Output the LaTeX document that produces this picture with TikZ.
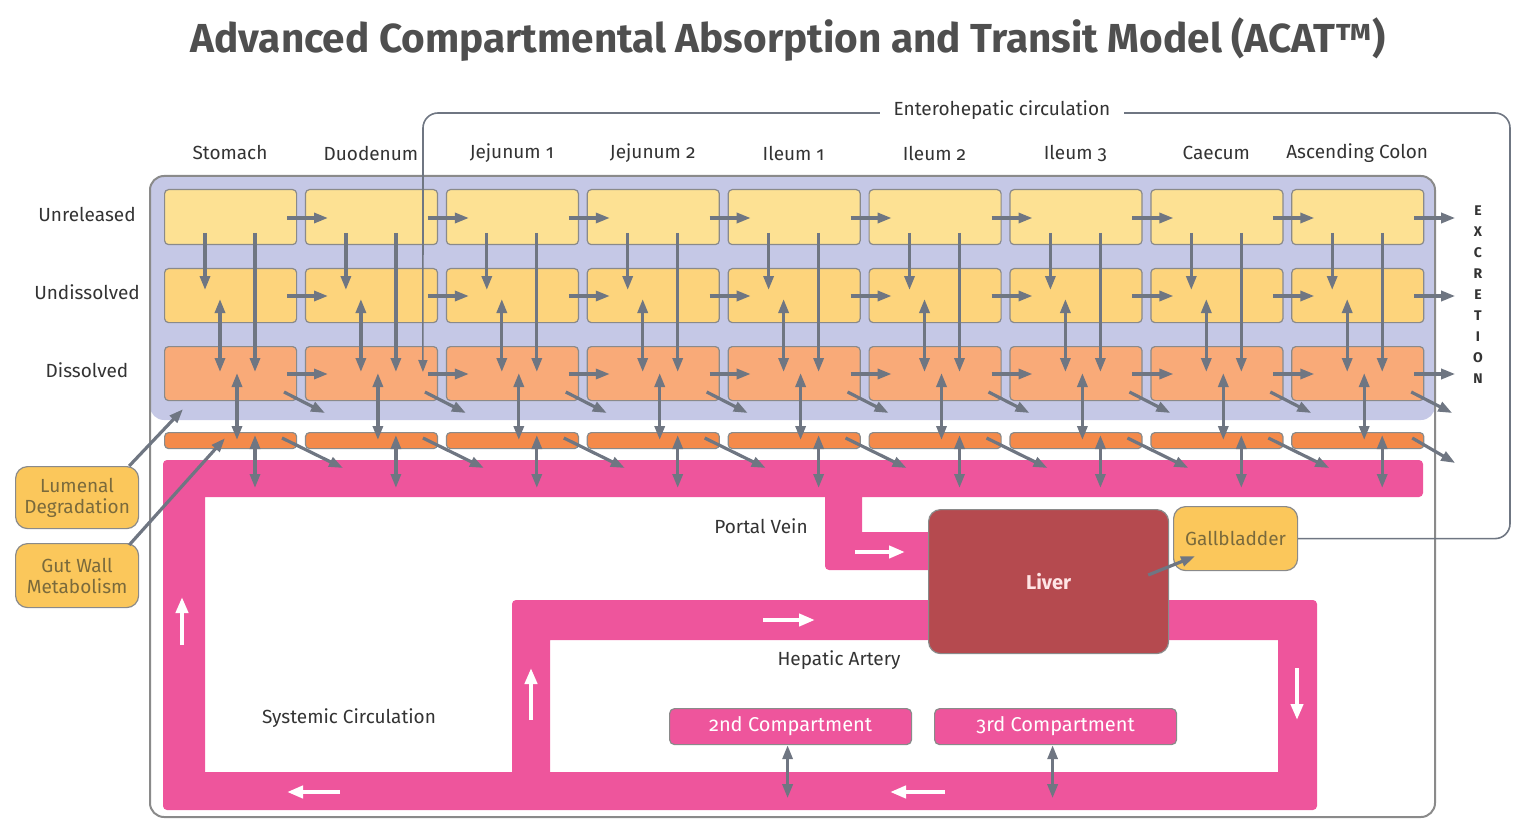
\documentclass[tikz,border=0pt]{standalone}
\usepackage{fontspec}
\setmainfont{Fira Sans}[Numbers=OldStyle]
\usetikzlibrary{arrows.meta,calc}
\definecolor{lav}{HTML}{C5C8E6}
\definecolor{unrelc}{HTML}{FDE193}
\definecolor{undisc}{HTML}{FDD47C}
\definecolor{dissc}{HTML}{F9AA78}
\definecolor{entc}{HTML}{F48A4A}
\definecolor{pinkc}{HTML}{EE559C}
\definecolor{liverc}{HTML}{B54A4F}
\definecolor{goldc}{HTML}{FBC75B}
\definecolor{arrc}{HTML}{6F7682}
\definecolor{bordc}{HTML}{8A8A8A}
\definecolor{txtc}{HTML}{333333}
\definecolor{titc}{HTML}{4F4F4F}
\definecolor{goldtxt}{HTML}{7A6A3C}
\tikzset{
  cell/.style={draw=bordc, line width=1.2, rounded corners=4, minimum width=132, inner sep=0, anchor=north west},
  garr/.style={draw=arrc, line width=3.2, -{Triangle[length=14,width=10]}},
  garrb/.style={draw=arrc, line width=3.2, {Triangle[length=14,width=10]}-{Triangle[length=14,width=10]}},
  warr/.style={draw=white, line width=4.5, -{Triangle[length=16,width=12]}},
  lbl/.style={text=txtc, font=\fontsize{19}{22}\selectfont, inner sep=0},
  goldbox/.style={draw=bordc, line width=1.2, fill=goldc, rounded corners=12, text=goldtxt, font=\fontsize{19}{21}\selectfont, align=center, inner sep=0, anchor=north west},
  compbox/.style={draw=bordc, line width=1.2, fill=pinkc, rounded corners=5, text=white, font=\fontsize{20}{22}\selectfont, minimum width=242, minimum height=36, inner sep=0, anchor=north west},
}
\begin{document}
\begin{tikzpicture}[x=1pt,y=-1pt]
\useasboundingbox (0,0) rectangle (1513,821);
% title
\node[text=titc, font=\fontsize{40.5}{42}\selectfont\bfseries, inner sep=0] (title) at (788,40) {Advanced Compartmental Absorption and Transit Model (ACAT™)};
% lavender area and frame
\fill[lav, rounded corners=14] (150,176) rectangle (1435,420);
\draw[bordc, line width=2, rounded corners=14] (150,176) rectangle (1435,817);
% pink circulation
\fill[pinkc, rounded corners=4]
  (163,460) rectangle (1423,497)
  (163,460) rectangle (205,810)
  (163,772) rectangle (1317,810)
  (1278,600) rectangle (1317,810)
  (512,600) rectangle (1317,640)
  (512,600) rectangle (550,810)
  (825,490) rectangle (862,570)
  (825,532) rectangle (935,570);
% columns
\foreach \i/\name in {0/Stomach,1/Duodenum,2/Jejunum 1,3/Jejunum 2,4/Ileum 1,5/Ileum 2,6/Ileum 3,7/Caecum,8/Ascending Colon}{
  \pgfmathsetmacro\x{164+140.9*\i}
  \node[lbl] (col\i) at (\x+66,153) {\name};
  \node[cell, fill=unrelc, minimum height=55] (u\i) at (\x,189) {};
  \node[cell, fill=undisc, minimum height=54] (n\i) at (\x,268) {};
  \node[cell, fill=dissc, minimum height=54] (d\i) at (\x,346) {};
  \node[cell, fill=entc, minimum height=16] (e\i) at (\x,432) {};
}
% arrows in grid
\foreach \i in {0,...,8}{
  \draw[garr] ($(u\i.north west)+(123,29)$) -- ++(41,0);
  \draw[garr] ($(n\i.north west)+(123,28)$) -- ++(41,0);
  \draw[garr] ($(d\i.north west)+(123,28)$) -- ++(41,0);
  \draw[garr] ($(u\i.north west)+(41,44)$) -- ($(n\i.north west)+(41,22)$);
  \draw[garr] ($(u\i.north west)+(91,44)$) -- ($(d\i.north west)+(91,26)$);
  \draw[garrb] ($(n\i.north west)+(56,31)$) -- ($(d\i.north west)+(56,26)$);
  \draw[garrb] ($(d\i.north west)+(73,27)$) -- ($(e\i.north west)+(73,8)$);
  \draw[garr] ($(d\i.north west)+(120,46)$) -- ++(41,21);
  \draw[garrb] ($(e\i.north west)+(91,3)$) -- ($(e\i.north west)+(91,56)$);
  \ifnum\i=8
    \draw[garr] ($(e\i.north west)+(121,6)$) -- ++(43,25);
  \else
    \draw[garr] ($(e\i.north west)+(118,6)$) -- ++(61,30);
  \fi
}
% row labels
\node[lbl] (rU) at (87,214) {Unreleased};
\node[lbl] (rN) at (87,292) {Undissolved};
\node[lbl] (rD) at (87,370) {Dissolved};
% excretion
\foreach \c [count=\k from 0] in {E,X,C,R,E,T,I,O,N}{
  \node[text=txtc, font=\fontsize{14}{15}\selectfont\bfseries, inner sep=0] (ex\k) at (1478,211+20.9*\k) {\c};
}
% liver, gallbladder
\node[draw=bordc, line width=1.2, fill=liverc, rounded corners=12, minimum width=240, minimum height=144, inner sep=0, anchor=north west, text=white!90!red, font=\fontsize{20}{22}\selectfont\bfseries] (liver) at (928,509) {Liver};
\node[goldbox, minimum width=124, minimum height=64] (gall) at (1173,506) {Gallbladder};
\draw[garr] ($(liver.north east)+(-21,66)$) -- ($(gall.south west)+(22,-15)$);
% lumenal & gut wall
\node[goldbox, minimum width=123, minimum height=62] (lum) at (15,466) {Lumenal\\Degradation};
\node[goldbox, minimum width=123, minimum height=64] (gut) at (15,543) {Gut Wall\\Metabolism};
\draw[garr] ($(lum.north east)+(-10,0)$) -- ($(d0.south west)+(19,8)$);
\draw[garr] ($(gut.north east)+(-10,2)$) -- ($(e0.south west)+(61,-11)$);
% compartments
\node[compbox] (c2) at (669,708) {2nd Compartment};
\node[compbox] (c3) at (934,708) {3rd Compartment};
\draw[garrb] (c2.south) ++(-3,0) coordinate (c2s) -- ++(0,53) coordinate (c2e);
\draw[garrb] (c3.south) ++(-3,0) coordinate (c3s) -- ++(0,53) coordinate (c3e);
% white flow arrows
\draw[warr] (182,645) -- (182,597);
\draw[warr] (531,720) -- (531,668);
\draw[warr] (1297,668) -- (1297,720);
\draw[warr] (340,792) -- (287,792);
\draw[warr] (945,792) -- (890,792);
\draw[warr] (763,620) -- (815,620);
\draw[warr] (855,552) -- (905,552);
% circulation labels
\node[lbl] (pv) at (761,526) {Portal Vein};
\node[lbl] (ha) at (839,660) {Hepatic Artery};
\node[lbl] (sc) at (349,718) {Systemic Circulation};
% enterohepatic circulation
\coordinate (ehA) at (1510,113);
\coordinate (ehB) at (423,113);
\coordinate (ehEnd) at ($(d1.north west)+(118,26)$);
\draw[arrc, line width=1.6, rounded corners=15, -{Triangle[length=12,width=9]}] (gall.east) -| (ehA) -- (ehB) -- (ehEnd);
\node[lbl, fill=white, inner xsep=14, inner ysep=3] (eh) at (1002,110) {Enterohepatic circulation};
\end{tikzpicture}
\end{document}
